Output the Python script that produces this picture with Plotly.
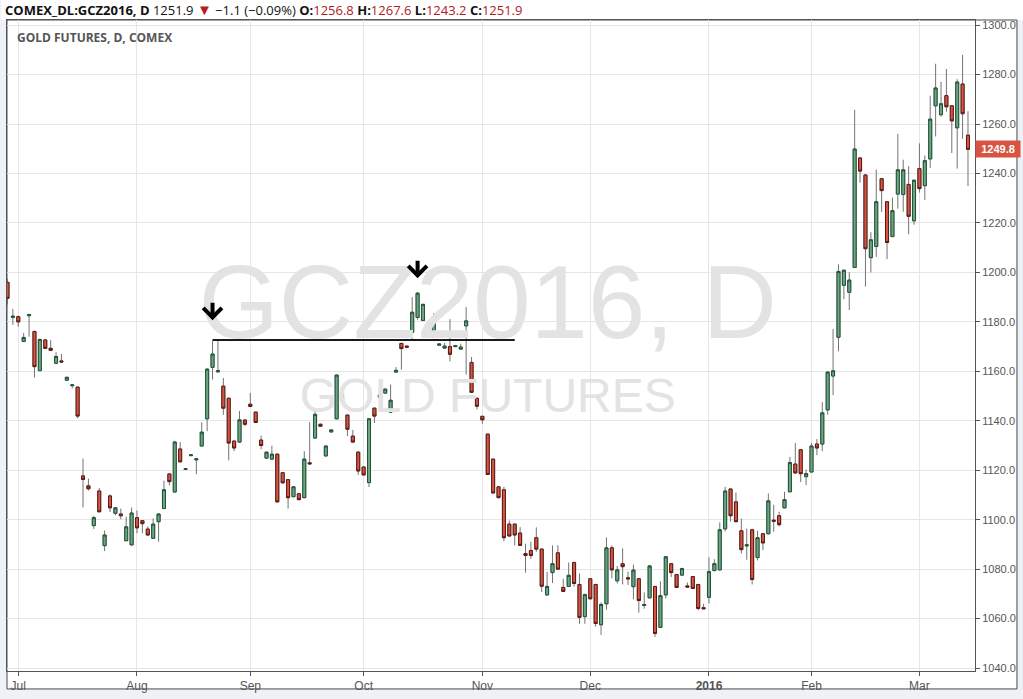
import numpy as np
import pandas as pd
import plotly.graph_objects as go

# ---- data ------------------------------------------------------------
holidays = ['2015-07-03', '2015-09-07', '2015-11-26', '2015-12-25',
            '2016-01-01', '2016-01-18', '2016-02-15']
dates = pd.bdate_range('2015-06-29', '2016-03-14', freq='C',
                       holidays=holidays).strftime('%Y-%m-%d').tolist()

opens = [
    1196.0, 1181.8, 1182.1, 1172.1, 1182.5, 1176.1, 1160.3, 1172.7, 1169.3, 1163.3,
    1164.2, 1156.4, 1154.2, 1153.6, 1117.7, 1113.7, 1097.6, 1111.6, 1089.5, 1109.6,
    1102.6, 1102.3, 1091.5, 1089.8, 1100.8, 1099.6, 1096.2, 1092.5, 1099.2, 1104.5,
    1118.5, 1111.2, 1128.6, 1120.3, 1125.9, 1124.2, 1129.8, 1140.8, 1161.6, 1159.8,
    1154.0, 1149.1, 1131.8, 1131.4, 1140.3, 1146.7, 1143.5, 1132.2, 1124.9, 1124.5,
    1126.5, 1119.0, 1116.2, 1109.3, 1110.5, 1108.9, 1123.0, 1133.0, 1138.6, 1125.8,
    1135.5, 1140.8, 1148.3, 1142.3, 1133.8, 1127.3, 1121.3, 1115.0, 1145.1, 1149.5,
    1151.2, 1143.5, 1159.7, 1171.3, 1170.2, 1175.8, 1181.8, 1180.6, 1175.8, 1176.5,
    1170.6, 1169.4, 1170.0, 1170.0, 1169.0, 1178.4, 1163.6, 1149.1, 1141.8, 1134.6,
    1124.5, 1113.3, 1112.1, 1098.2, 1098.2, 1094.6, 1086.3, 1087.5, 1092.7, 1088.1,
    1069.6, 1078.6, 1086.6, 1072.6, 1073.0, 1082.7, 1073.8, 1060.8, 1076.1, 1073.8,
    1057.5, 1066.0, 1088.6, 1075.3, 1082.2, 1076.5, 1072.9, 1076.1, 1065.3, 1068.4,
    1073.0, 1056.4, 1069.6, 1082.2, 1077.8, 1077.6, 1073.2, 1077.0, 1073.8, 1064.4,
    1068.6, 1079.4, 1079.7, 1096.3, 1112.4, 1107.2, 1095.5, 1089.4, 1095.9, 1084.7,
    1094.3, 1094.3, 1099.8, 1101.6, 1104.8, 1111.3, 1122.5, 1128.3, 1117.4, 1119.3,
    1130.6, 1130.6, 1144.4, 1158.1, 1173.8, 1194.8, 1192.0, 1202.0, 1246.3, 1239.4,
    1206.0, 1210.5, 1237.9, 1228.6, 1214.5, 1231.7, 1231.5, 1235.6, 1220.9, 1242.0,
    1235.1, 1245.9, 1267.4, 1263.8, 1271.5, 1267.4, 1258.5, 1276.2, 1255.5]

highs = [
    1197.5, 1185.2, 1182.5, 1175.5, 1183.2, 1176.5, 1173.2, 1173.0, 1172.7, 1167.7,
    1167.0, 1157.8, 1154.7, 1153.8, 1124.7, 1116.6, 1101.6, 1112.8, 1095.6, 1110.2,
    1105.0, 1104.5, 1101.2, 1104.9, 1103.7, 1099.8, 1097.3, 1100.5, 1102.5, 1115.8,
    1118.7, 1131.9, 1131.4, 1120.8, 1126.4, 1124.8, 1139.4, 1161.1, 1172.3, 1173.1,
    1157.3, 1149.3, 1132.0, 1144.0, 1140.5, 1151.3, 1143.7, 1134.0, 1127.5, 1129.9,
    1126.7, 1119.2, 1116.4, 1113.5, 1110.7, 1127.7, 1139.4, 1144.4, 1138.8, 1130.0,
    1136.5, 1158.7, 1152.0, 1142.5, 1136.3, 1127.7, 1121.5, 1141.0, 1145.3, 1153.2,
    1153.0, 1154.7, 1161.7, 1171.5, 1170.4, 1190.0, 1192.1, 1187.3, 1179.8, 1183.5,
    1171.2, 1171.5, 1181.1, 1170.6, 1171.2, 1186.0, 1165.8, 1149.3, 1142.0, 1134.8,
    1124.7, 1113.5, 1113.3, 1099.7, 1098.4, 1097.0, 1090.3, 1091.1, 1096.9, 1088.3,
    1078.9, 1089.6, 1089.6, 1076.1, 1082.7, 1082.9, 1078.3, 1070.1, 1076.3, 1074.0,
    1066.6, 1092.8, 1089.6, 1081.3, 1088.4, 1079.0, 1081.8, 1076.3, 1070.6, 1081.5,
    1073.2, 1075.1, 1085.2, 1082.4, 1078.0, 1080.6, 1074.6, 1077.2, 1074.0, 1066.0,
    1084.8, 1084.0, 1098.9, 1113.3, 1112.6, 1111.0, 1100.4, 1096.4, 1096.4, 1095.5,
    1094.5, 1110.6, 1106.0, 1103.2, 1111.3, 1125.4, 1131.0, 1128.5, 1120.3, 1131.0,
    1132.6, 1147.6, 1159.9, 1177.1, 1203.3, 1201.1, 1200.1, 1265.8, 1246.5, 1239.6,
    1216.3, 1241.6, 1238.1, 1228.8, 1230.3, 1256.1, 1245.6, 1243.0, 1237.5, 1252.2,
    1247.3, 1271.5, 1284.4, 1277.1, 1282.3, 1267.6, 1278.2, 1288.0, 1265.2]

lows = [
    1187.0, 1178.8, 1178.0, 1171.8, 1174.0, 1157.5, 1160.0, 1169.0, 1168.3, 1163.0,
    1163.6, 1156.2, 1153.1, 1141.0, 1105.0, 1111.8, 1096.2, 1103.0, 1087.3, 1103.1,
    1101.8, 1100.2, 1091.3, 1089.5, 1094.5, 1094.5, 1093.6, 1092.3, 1091.1, 1104.3,
    1113.9, 1111.0, 1123.2, 1120.1, 1125.8, 1118.4, 1129.6, 1135.8, 1156.7, 1159.6,
    1142.4, 1124.0, 1127.7, 1131.2, 1137.8, 1145.6, 1139.1, 1128.5, 1124.7, 1124.3,
    1107.0, 1114.7, 1104.5, 1109.1, 1107.9, 1108.7, 1122.4, 1132.8, 1137.6, 1125.6,
    1135.3, 1140.6, 1148.1, 1133.8, 1131.2, 1118.1, 1117.9, 1113.2, 1139.1, 1149.3,
    1151.0, 1143.3, 1159.5, 1160.7, 1169.6, 1173.1, 1180.9, 1180.4, 1174.0, 1176.3,
    1170.4, 1169.2, 1164.0, 1169.8, 1168.8, 1158.7, 1151.3, 1144.6, 1138.8, 1118.1,
    1110.6, 1108.7, 1091.3, 1093.2, 1089.6, 1089.4, 1078.6, 1084.1, 1087.0, 1070.7,
    1069.2, 1074.4, 1079.8, 1070.8, 1072.8, 1072.9, 1057.9, 1057.9, 1067.8, 1056.7,
    1053.4, 1063.6, 1076.3, 1074.2, 1073.8, 1073.6, 1067.8, 1062.4, 1064.0, 1068.2,
    1052.6, 1056.2, 1068.1, 1076.8, 1072.4, 1077.2, 1072.6, 1072.0, 1063.3, 1063.8,
    1066.1, 1079.2, 1079.5, 1095.3, 1099.2, 1099.0, 1086.3, 1083.8, 1073.8, 1083.5,
    1087.7, 1094.1, 1095.1, 1097.2, 1104.6, 1111.1, 1118.7, 1115.2, 1114.0, 1119.1,
    1126.1, 1127.7, 1142.4, 1150.4, 1168.1, 1189.2, 1184.8, 1201.8, 1236.3, 1194.3,
    1200.0, 1206.3, 1224.5, 1205.4, 1214.3, 1225.8, 1224.5, 1215.4, 1219.3, 1232.3,
    1229.3, 1242.3, 1255.0, 1263.0, 1265.0, 1248.3, 1242.0, 1254.0, 1234.9]

closes = [
    1189.5, 1182.3, 1180.0, 1173.7, 1183.0, 1161.9, 1172.9, 1169.3, 1168.5, 1166.0,
    1163.8, 1157.6, 1154.5, 1141.9, 1116.3, 1112.5, 1100.8, 1103.2, 1093.8, 1104.8,
    1104.8, 1101.6, 1097.1, 1102.7, 1096.7, 1098.4, 1093.8, 1098.2, 1102.3, 1112.1,
    1115.4, 1131.4, 1123.4, 1120.6, 1126.2, 1124.6, 1135.4, 1160.9, 1167.0, 1160.2,
    1145.1, 1131.0, 1129.0, 1140.4, 1138.6, 1145.8, 1139.3, 1130.0, 1127.3, 1126.5,
    1107.2, 1114.9, 1108.9, 1113.3, 1108.1, 1124.5, 1122.6, 1142.6, 1137.8, 1129.8,
    1136.3, 1158.5, 1150.5, 1136.6, 1131.4, 1119.7, 1118.1, 1140.8, 1141.9, 1150.4,
    1152.8, 1148.3, 1160.4, 1169.2, 1169.8, 1183.9, 1191.6, 1187.1, 1177.0, 1181.5,
    1171.0, 1170.2, 1166.9, 1170.4, 1169.8, 1180.4, 1151.5, 1145.9, 1140.4, 1118.3,
    1110.8, 1108.9, 1092.7, 1093.4, 1093.8, 1089.6, 1085.5, 1085.5, 1088.1, 1073.1,
    1073.0, 1082.2, 1080.0, 1071.0, 1077.5, 1074.2, 1060.5, 1069.7, 1068.0, 1058.0,
    1065.7, 1088.6, 1079.7, 1079.7, 1081.0, 1076.1, 1079.6, 1067.3, 1065.7, 1081.3,
    1054.0, 1069.3, 1085.0, 1078.6, 1072.6, 1080.2, 1072.8, 1072.2, 1064.1, 1064.0,
    1079.0, 1082.2, 1095.9, 1111.6, 1101.6, 1099.2, 1087.9, 1089.8, 1075.8, 1092.7,
    1090.6, 1107.6, 1099.4, 1098.0, 1108.1, 1123.1, 1118.9, 1118.6, 1118.6, 1129.8,
    1129.0, 1143.2, 1159.7, 1160.2, 1200.4, 1200.9, 1196.9, 1249.9, 1241.0, 1209.6,
    1213.2, 1228.6, 1233.1, 1212.1, 1225.0, 1241.5, 1241.5, 1222.7, 1237.3, 1233.9,
    1245.2, 1262.0, 1274.6, 1268.2, 1267.0, 1261.3, 1277.0, 1264.2, 1249.8]

tick_dates = ['2015-07-01', '2015-08-03', '2015-09-01', '2015-10-01', '2015-11-02',
              '2015-12-01', '2016-01-04', '2016-02-01', '2016-03-01']
tick_labels = ['Jul', 'Aug', 'Sep', 'Oct', 'Nov', 'Dec', '<b>2016</b>', 'Feb', 'Mar']
price_ticks = list(range(1040, 1301, 20))

resistance_level = 1172.7
resistance_start = '2015-08-21'
resistance_end = '2015-11-10'
arrow_dates = ['2015-08-21', '2015-10-15']
arrow_prices = [1180.7, 1197.7]
last_price = closes[-1]

watermark_texts = ['GCZ2016, D', 'GOLD FUTURES']
watermark_prices = [1183.7, 1148.3]
watermark_date = dates[89]

# ---- figure ------------------------------------------------------------
UP_FILL, DN_FILL = '#6ba583', '#d75442'
UP_LINE, DN_LINE = '#225437', '#5b1a13'
WICK = '#737375'

o = np.array(opens); c = np.array(closes)
body_hi = np.maximum(o, c); body_lo = np.minimum(o, c)

fig = go.Figure()

# watermark behind candles
fig.add_trace(go.Scatter(
    x=[watermark_date, watermark_date], y=watermark_prices, mode='text',
    text=watermark_texts, textposition='middle center',
    textfont=dict(size=[103, 48], color='#e3e3e3', family='Liberation Sans, Arial'),
    hoverinfo='skip', showlegend=False))

# wicks
fig.add_trace(go.Candlestick(
    x=dates, open=opens, high=highs, low=lows, close=closes,
    increasing=dict(line=dict(color=WICK, width=1), fillcolor=UP_FILL),
    decreasing=dict(line=dict(color=WICK, width=1), fillcolor=DN_FILL),
    hoverinfo='skip', showlegend=False))
# bodies with dark borders
fig.add_trace(go.Candlestick(
    x=dates, open=opens, high=body_hi, low=body_lo, close=closes,
    increasing=dict(line=dict(color=UP_LINE, width=1), fillcolor=UP_FILL),
    decreasing=dict(line=dict(color=DN_LINE, width=1), fillcolor=DN_FILL),
    hoverinfo='skip', showlegend=False))

# resistance line
fig.add_trace(go.Scatter(
    x=[resistance_start, resistance_end], y=[resistance_level, resistance_level],
    mode='lines', line=dict(color='#1a1a1a', width=2),
    hoverinfo='skip', showlegend=False))

annotations = []
for d, p in zip(arrow_dates, arrow_prices):
    annotations.append(dict(x=d, y=p, xref='x', yref='y', text='', showarrow=True,
                            ax=0, ay=-19, arrowhead=4, arrowwidth=4, arrowsize=0.9,
                            arrowcolor='#000000'))

RED = '#b0201e'
header = (
    "<b>COMEX_DL:GCZ2016, D</b> 1251.9 <span style='color:#b71c1c;font-size:15px'>▼</span>"
    " −1.1 (−0.09%)"
    f" <b>O:</b><span style='color:{RED}'>1256.8</span>"
    f" <b>H:</b><span style='color:{RED}'>1267.6</span>"
    f" <b>L:</b><span style='color:{RED}'>1243.2</span>"
    f" <b>C:</b><span style='color:{RED}'>1251.9</span>")
annotations.append(dict(x=-4 / 969, y=(673 - 9) / 653, xref='paper', yref='paper',
                        text=header, showarrow=False, xanchor='left', yanchor='middle',
                        font=dict(family='Open Sans', size=13, color='#111111')))
annotations.append(dict(x=8 / 969, y=(673 - 38) / 653, xref='paper', yref='paper',
                        text='<b>GOLD FUTURES, D, COMEX</b>', showarrow=False,
                        xanchor='left', yanchor='middle',
                        font=dict(family='Open Sans', size=12, color='#555555')))
annotations.append(dict(x=1, y=last_price, xref='paper', yref='y',
                        text='<b>{:.1f}</b>'.format(last_price), showarrow=False,
                        xanchor='left', yanchor='middle', bgcolor=DN_FILL,
                        borderpad=2, width=40,
                        font=dict(family='Liberation Sans, Arial', size=11, color='white')))

shapes = [
    dict(type='rect', xref='paper', yref='paper', x0=-6 / 969, x1=1017 / 969,
         y0=1, y1=673 / 653, fillcolor='white', line=dict(width=0), layer='below'),
    dict(type='rect', xref='paper', yref='paper', x0=0, x1=1011 / 969,
         y0=-18 / 653, y1=1, fillcolor='white',
         line=dict(color='#4a4a4a', width=1), layer='below'),
]

fig.update_layout(
    width=1023, height=699, autosize=False,
    margin=dict(l=6, r=48, t=20, b=26),
    paper_bgcolor='#eef1f6', plot_bgcolor='white',
    showlegend=False, boxgap=0.2,
    annotations=annotations, shapes=shapes,
    xaxis=dict(type='category', categoryorder='array', categoryarray=dates,
               range=[-0.09, 179.3], rangeslider=dict(visible=False),
               tickmode='array', tickvals=tick_dates, ticktext=tick_labels,
               showgrid=True, gridcolor='#e6e6e6', gridwidth=1,
               showline=True, linecolor='#555555', linewidth=1, mirror=True,
               ticks='outside', ticklen=4, tickcolor='#555555',
               tickfont=dict(family='Liberation Sans, Arial', size=12, color='#555555'),
               fixedrange=True),
    yaxis=dict(side='right', range=[1038.8, 1302.1], tickmode='array',
               tickvals=price_ticks, ticktext=['{:.1f}'.format(v) for v in price_ticks],
               showgrid=True, gridcolor='#e6e6e6', gridwidth=1, zeroline=False,
               showline=True, linecolor='#555555', linewidth=1, mirror=True,
               ticks='outside', ticklen=4, tickcolor='#555555',
               tickfont=dict(family='Liberation Sans, Arial', size=11, color='#555555'),
               fixedrange=True),
    hovermode=False,
)

fig.write_html('out.html', config={'displayModeBar': False},
               post_script="document.body.style.margin='0';"
                           "document.body.style.overflow='hidden';")
